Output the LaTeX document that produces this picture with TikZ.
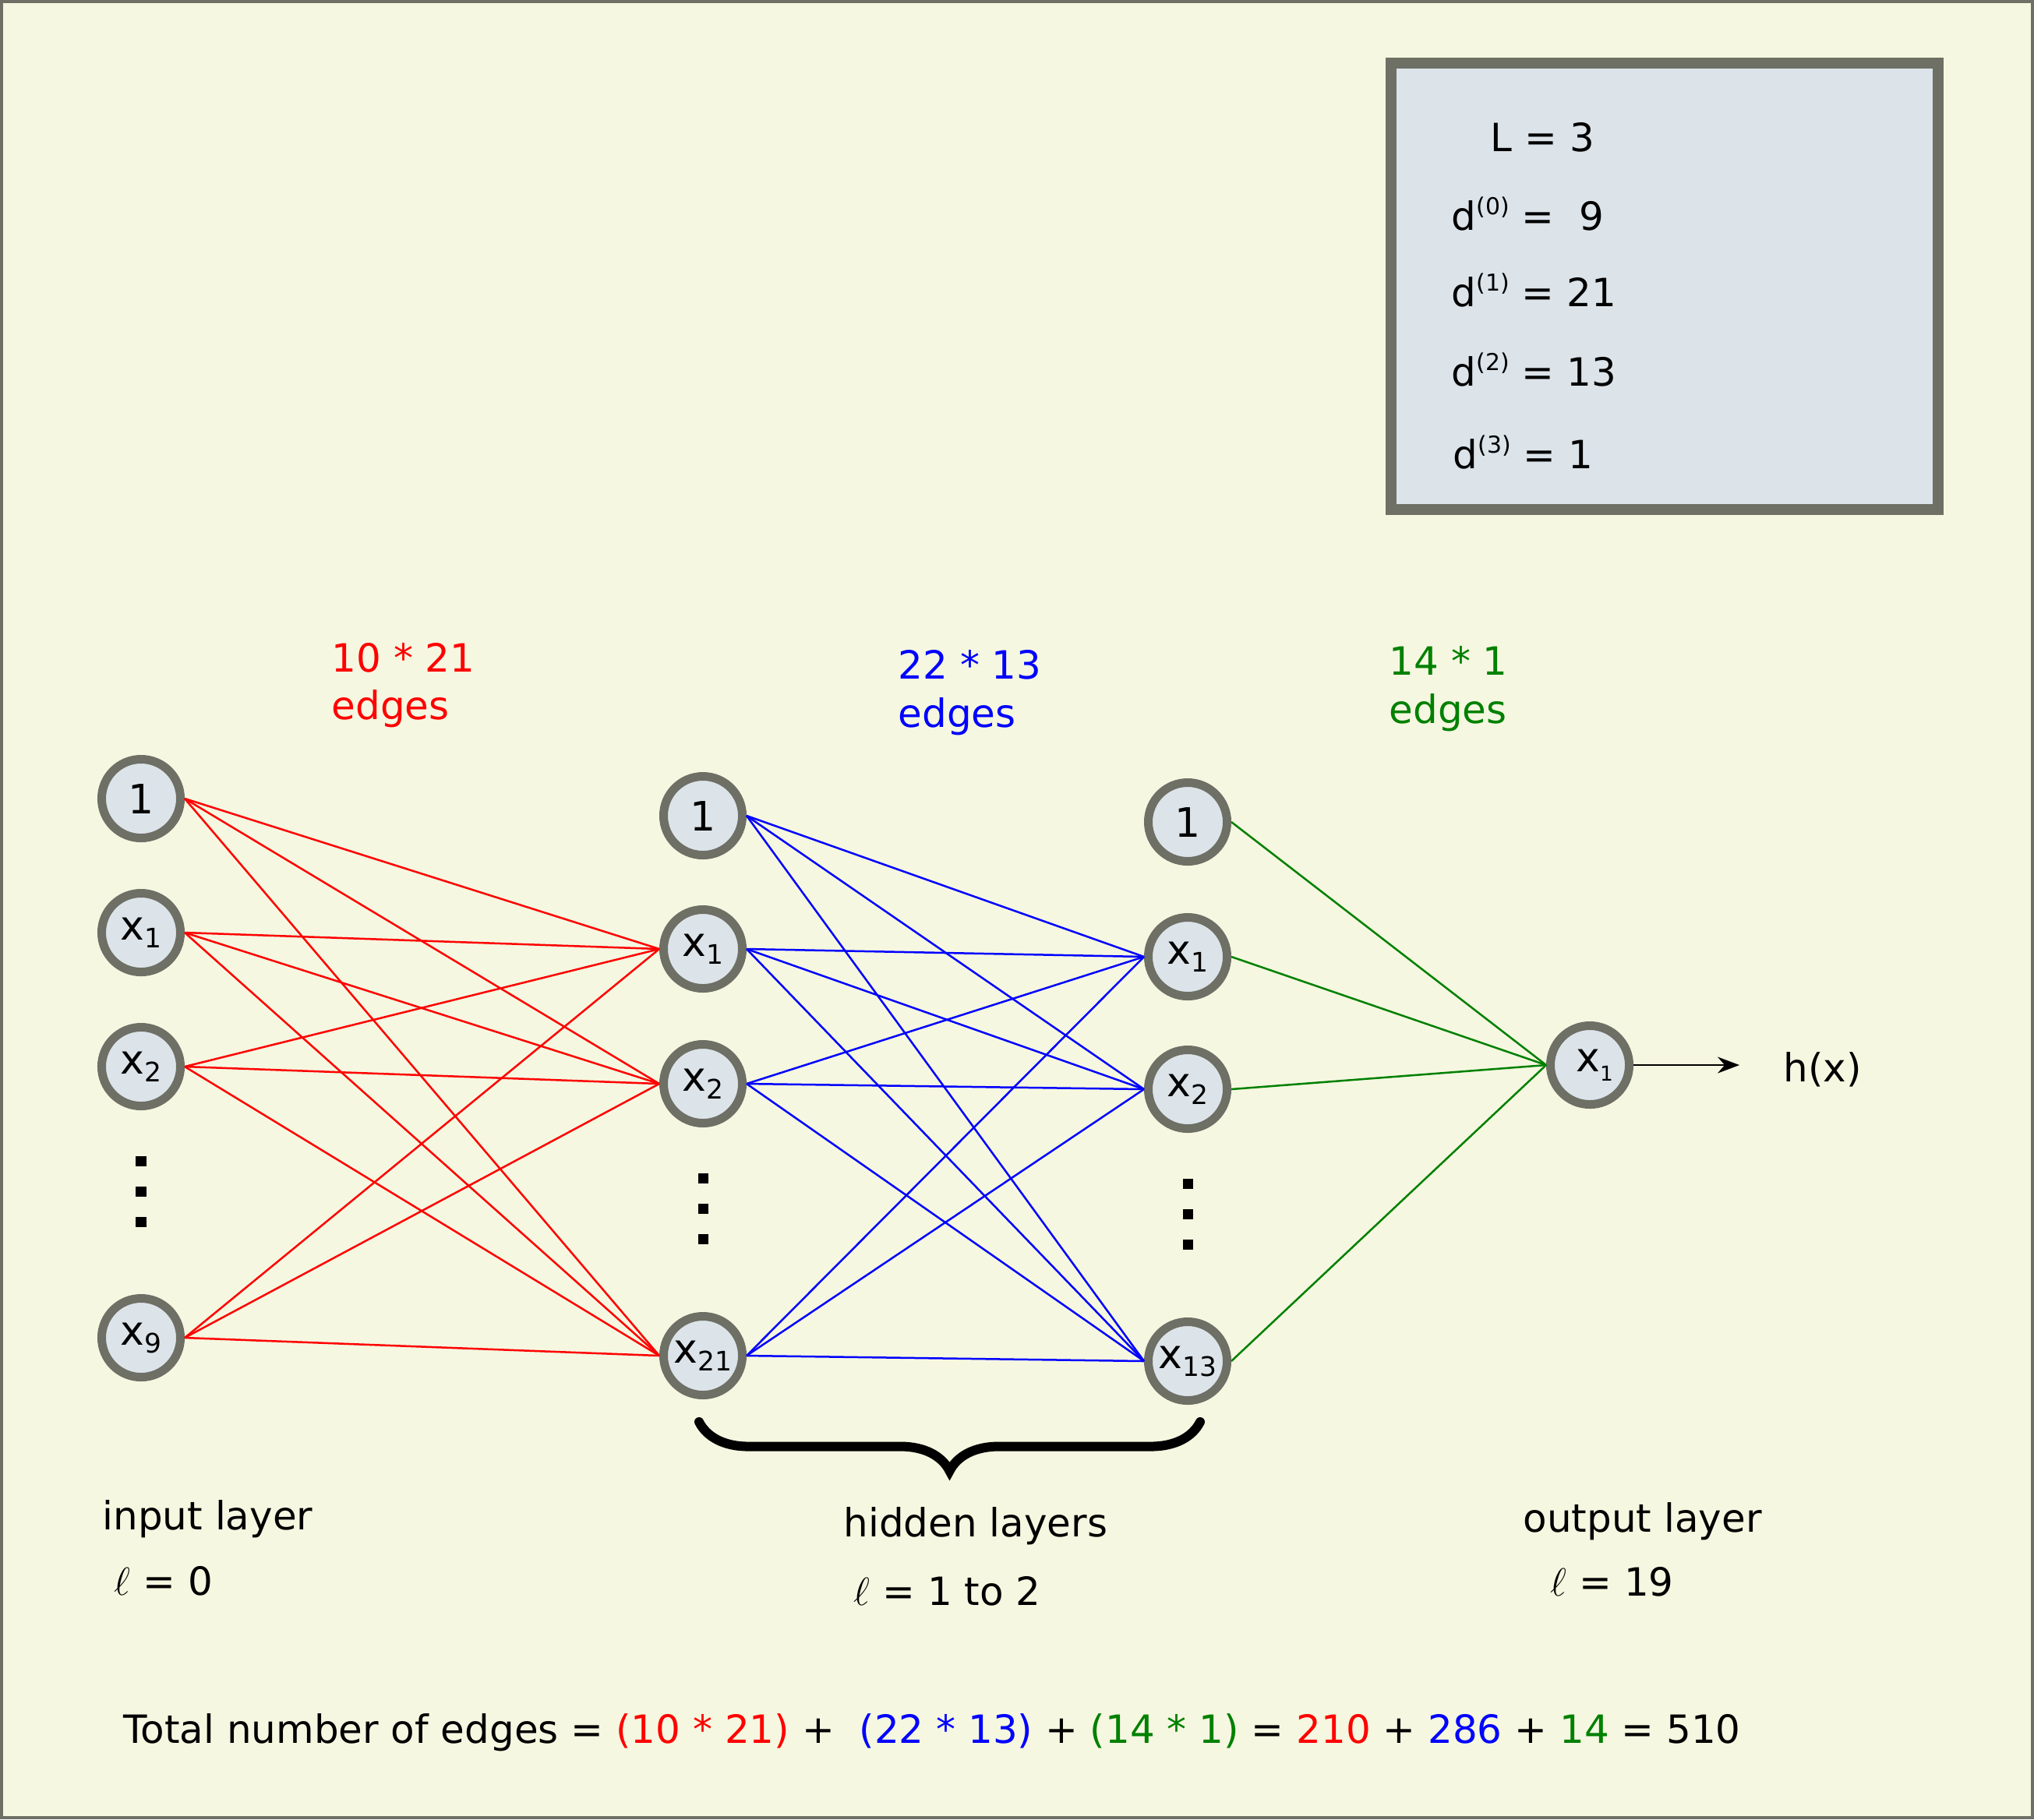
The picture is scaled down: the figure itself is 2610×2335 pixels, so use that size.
\documentclass[tikz,border=0pt]{standalone}
\usepackage{fontspec}
\setmainfont{DejaVu Sans}
\usetikzlibrary{arrows.meta,decorations.pathreplacing}
\definecolor{bgyellow}{RGB}{245,247,224}
\definecolor{ringgray}{RGB}{110,111,101}
\definecolor{cellblue}{RGB}{220,228,234}
\definecolor{edgered}{RGB}{255,0,0}
\definecolor{edgeblue}{RGB}{0,0,255}
\definecolor{edgegreen}{RGB}{0,128,0}
\tikzset{
  neuron/.style={
    circle,
    draw=ringgray,
    fill=cellblue,
    line width=0.11cm,
    minimum size=1.01cm,
    inner sep=0pt,
    font=\fontsize{14.8}{17}\selectfont
  },
  txt/.style={
    anchor=base west,
    inner sep=0pt,
    font=\fontsize{14.2}{17}\selectfont
  },
  redline/.style={edgered, line width=0.025cm},
  blueline/.style={edgeblue, line width=0.025cm},
  greenline/.style={edgegreen, line width=0.025cm},
  vdot/.style={fill=black, minimum size=0.13cm, inner sep=0pt}
}
\newcommand{\nsub}[1]{\raisebox{-0.1cm}{\fontsize{9.8}{10}\selectfont #1}}
\newcommand{\osub}[1]{\raisebox{-0.12cm}{\fontsize{7.5}{8}\selectfont #1}}
\newcommand{\dsup}[1]{\raisebox{0.195cm}{\fontsize{8.5}{9}\selectfont(#1)}}

\begin{document}
\begin{tikzpicture}[x=0.01cm, y=-0.01cm]
  \fill[bgyellow] (0,0) rectangle (2610,2335);
  \draw[ringgray, line width=0.04cm] (2,2) rectangle (2608,2333);
  \useasboundingbox (0,0) rectangle (2610,2335);

  % summary box
  \draw[ringgray, fill=cellblue, line width=0.14cm] (1785,81) rectangle (2487,654);
  \node[txt] (bigL) at (1912,194) {L = 3};
  \node[txt] (dzero) at (1862,295) {d\dsup{0} =\ \ 9};
  \node[txt] (done) at (1862,393) {d\dsup{1} = 21};
  \node[txt] (dtwo) at (1862,495) {d\dsup{2} = 13};
  \node[txt] (dthree) at (1864,601) {d\dsup{3} = 1};

  % layers
  \node[neuron] (in0) at (181,1025) {1};
  \node[neuron] (in1) at (181,1197) {x\nsub{1}};
  \node[neuron] (in2) at (181,1369) {x\nsub{2}};
  \node[neuron] (in9) at (181,1717) {x\nsub{9}};

  \node[neuron] (hA0) at (902,1047) {1};
  \node[neuron] (hA1) at (902,1218) {x\nsub{1}};
  \node[neuron] (hA2) at (902,1391) {x\nsub{2}};
  \node[neuron] (hA21) at (902,1740) {x\nsub{21}};

  \node[neuron] (hB0) at (1524,1055) {1};
  \node[neuron] (hB1) at (1524,1228) {x\nsub{1}};
  \node[neuron] (hB2) at (1524,1398) {x\nsub{2}};
  \node[neuron] (hB13) at (1524,1747) {x\nsub{13}};

  \node[neuron] (out1) at (2040,1367) {\hspace{0.12cm}x\osub{1}};

  \foreach \x/\y in {181/1490,181/1529,181/1568,902/1512,902/1551,902/1590,1524/1519,1524/1558,1524/1597}
    \node[vdot] at (\x,\y) {};

  % edges
  \foreach \a in {in0,in1,in2,in9}
    \foreach \b in {hA1,hA2,hA21}
      \draw[redline] (\a.east) -- (\b.west);
  \foreach \a in {hA0,hA1,hA2,hA21}
    \foreach \b in {hB1,hB2,hB13}
      \draw[blueline] (\a.east) -- (\b.west);
  \foreach \a in {hB0,hB1,hB2,hB13}
    \draw[greenline] (\a.east) -- (out1.west);

  % output
  \coordinate (hend) at (2232,1367);
  \draw[line width=0.02cm, -{Stealth[length=0.28cm, width=0.21cm]}] (out1.east) -- (hend);
  \node[txt] (hx) at (2288,1388) {h(x)};

  % edge counts
  \node[txt, edgered] (redcount) at (425,862) {10 * 21};
  \node[txt, edgered] (rededges) at (425,923) {edges};
  \node[txt, edgeblue] (bluecount) at (1152,871) {22 * 13};
  \node[txt, edgeblue] (blueedges) at (1152,933) {edges};
  \node[txt, edgegreen] (greencount) at (1782,866) {14 * 1};
  \node[txt, edgegreen] (greenedges) at (1782,928) {edges};

  % brace under hidden layers
  \coordinate (braceL) at (897,1825);
  \coordinate (braceR) at (1540,1825);
  \draw[line width=0.12cm, line cap=round, decorate,
    decoration={brace, mirror, amplitude=0.63cm}] (braceL) -- (braceR);

  % layer names
  \node[txt] (inlabel) at (131,1963) {input layer};
  \node[txt] (inell) at (146,2047) {$\ell$ = 0};
  \node[txt] (hidlabel) at (1082,1972) {hidden layers};
  \node[txt] (hidell) at (1095,2060) {$\ell$ = 1 to 2};
  \node[txt] (outlabel) at (1954,1966) {output layer};
  \node[txt] (outell) at (1989,2048) {$\ell$ = 19};

  % total
  \node[txt] (total) at (158,2237) {Total number of edges =
    \textcolor{edgered}{(10 * 21)} +\ \ \textcolor{edgeblue}{(22 * 13)} +
    \textcolor{edgegreen}{(14 * 1)} = \textcolor{edgered}{210} +
    \textcolor{edgeblue}{286} + \textcolor{edgegreen}{14} = 510};
\end{tikzpicture}
\end{document}
